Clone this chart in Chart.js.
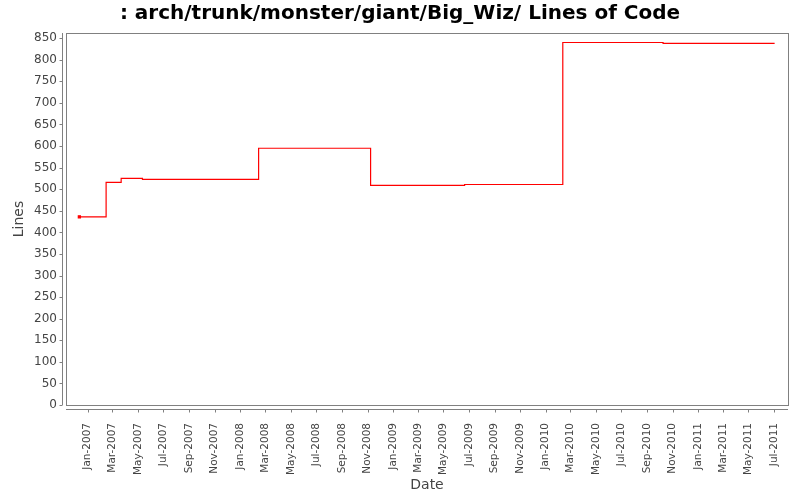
<!DOCTYPE html>
<html>
<head>
<meta charset="utf-8">
<script src="https://cdn.jsdelivr.net/npm/chart.js@4/dist/chart.umd.min.js"></script>
<style>
  html, body { margin: 0; padding: 0; background: #fff; }
  #wrap { width: 800px; height: 500px; position: relative; }
</style>
</head>
<body>
<div id="wrap"><canvas id="c"></canvas></div>
<script>
// ── Data ──────────────────────────────────────────────────────────────────────
// Each line count holds until the next date (step-before line).
const CHANGE_DATES = ["2006-12-12", "2007-02-14", "2007-03-22", "2007-05-12", "2008-02-14",
                      "2008-11-08", "2009-06-21", "2010-02-11", "2010-10-09", "2011-07-03"];
const LINE_COUNTS  = [436, 516, 525, 523, 595, 509, 511, 840, 838, 838];

const TICK_LABELS = ["Jan-2007", "Mar-2007", "May-2007", "Jul-2007", "Sep-2007", "Nov-2007",
                     "Jan-2008", "Mar-2008", "May-2008", "Jul-2008", "Sep-2008", "Nov-2008",
                     "Jan-2009", "Mar-2009", "May-2009", "Jul-2009", "Sep-2009", "Nov-2009",
                     "Jan-2010", "Mar-2010", "May-2010", "Jul-2010", "Sep-2010", "Nov-2010",
                     "Jan-2011", "Mar-2011", "May-2011", "Jul-2011"];
const Y_TICKS = [0, 50, 100, 150, 200, 250, 300, 350, 400, 450, 500, 550, 600, 650, 700, 750, 800, 850];

const X_MIN = "2006-11-10";
const X_MAX = "2011-08-04";

// ── Helpers ───────────────────────────────────────────────────────────────────
const MONTHS = ["Jan","Feb","Mar","Apr","May","Jun","Jul","Aug","Sep","Oct","Nov","Dec"];
const isoToMs   = s => { const [y, m, d] = s.split("-").map(Number); return Date.UTC(y, m - 1, d); };
const labelToMs = s => { const [mon, y] = s.split("-"); return Date.UTC(+y, MONTHS.indexOf(mon), 1); };
const tickByMs  = new Map(TICK_LABELS.map(l => [labelToMs(l), l]));

const AXIS_GREY = "#808080";
const TEXT_GREY = "#444444";

// Frame round the plot, plus axis lines set a few px off it (JFreeChart look)
const framePlugin = {
  id: "frame",
  afterDraw(chart) {
    const { ctx, chartArea: a, scales } = chart;
    ctx.save();
    ctx.strokeStyle = AXIS_GREY;
    ctx.lineWidth = 1;
    ctx.strokeRect(Math.round(a.left) + 0.5, Math.round(a.top) + 0.5,
                   Math.round(a.right - a.left), Math.round(a.bottom - a.top));

    const yl = Math.round(a.left) - 4 + 0.5;
    ctx.beginPath();
    ctx.moveTo(yl, a.top); ctx.lineTo(yl, a.bottom);
    scales.y.ticks.forEach(t => {
      const py = Math.round(scales.y.getPixelForValue(t.value)) + 0.5;
      ctx.moveTo(yl, py); ctx.lineTo(yl - 3, py);
    });
    const xl = Math.round(a.bottom) + 4 + 0.5;
    ctx.moveTo(a.left, xl); ctx.lineTo(a.right, xl);
    scales.x.ticks.forEach(t => {
      const px = Math.round(scales.x.getPixelForValue(t.value)) + 0.5;
      ctx.moveTo(px, xl); ctx.lineTo(px, xl + 3);
    });
    ctx.stroke();
    ctx.restore();
  },
};

new Chart(document.getElementById("c").getContext("2d"), {
  type: "line",
  data: {
    datasets: [{
      data: CHANGE_DATES.map((d, i) => ({ x: isoToMs(d), y: LINE_COUNTS[i] })),
      stepped: true,
      borderColor: "#ff0000",
      backgroundColor: "#ff0000",
      borderWidth: 1.2,
      pointStyle: "rect",
      pointRadius: CHANGE_DATES.map((_, i) => (i === 0 ? 1.5 : 0)),
      fill: false,
    }],
  },
  plugins: [framePlugin],
  options: {
    responsive: true,
    maintainAspectRatio: false,
    animation: false,
    layout: { padding: 0 },
    plugins: {
      legend: { display: false },
      tooltip: { enabled: false },
      title: {
        display: true,
        text: ": arch/trunk/monster/giant/Big_Wiz/ Lines of Code",
        color: "#000",
        font: { family: "DejaVu Sans", size: 20, weight: "bold" },
        padding: { top: 2, bottom: 7 },
      },
    },
    scales: {
      x: {
        type: "linear",
        min: isoToMs(X_MIN),
        max: isoToMs(X_MAX),
        grid: { display: false, drawTicks: false },
        border: { display: false },
        afterBuildTicks: scale => { scale.ticks = [...tickByMs.keys()].map(v => ({ value: v })); },
        // keep 12px of white right of the plot, title stays centred on the page
        afterFit: scale => { scale.height = 95; scale.paddingLeft = 0; scale.paddingRight = 12; },
        ticks: {
          autoSkip: false,
          minRotation: 90,
          maxRotation: 90,
          padding: 18,
          color: TEXT_GREY,
          font: { family: "DejaVu Sans", size: 10.5 },
          callback: v => tickByMs.get(v) || "",
        },
        title: {
          display: true,
          text: "Date",
          color: TEXT_GREY,
          font: { family: "DejaVu Sans", size: 14 },
          padding: { top: 6, bottom: 6 },
        },
      },
      y: {
        min: 0,
        max: 862,
        grid: { display: false, drawTicks: false },
        border: { display: false },
        afterBuildTicks: scale => { scale.ticks = Y_TICKS.map(v => ({ value: v })); },
        afterFit: scale => { scale.width = 66; scale.paddingTop = 0; scale.paddingBottom = 0; },
        ticks: {
          padding: 9,
          color: TEXT_GREY,
          font: { family: "DejaVu Sans", size: 12 },
        },
        title: {
          display: true,
          text: "Lines",
          color: TEXT_GREY,
          font: { family: "DejaVu Sans", size: 14 },
          padding: { top: 11, bottom: 0 },
        },
      },
    },
  },
});
</script>
</body>
</html>
